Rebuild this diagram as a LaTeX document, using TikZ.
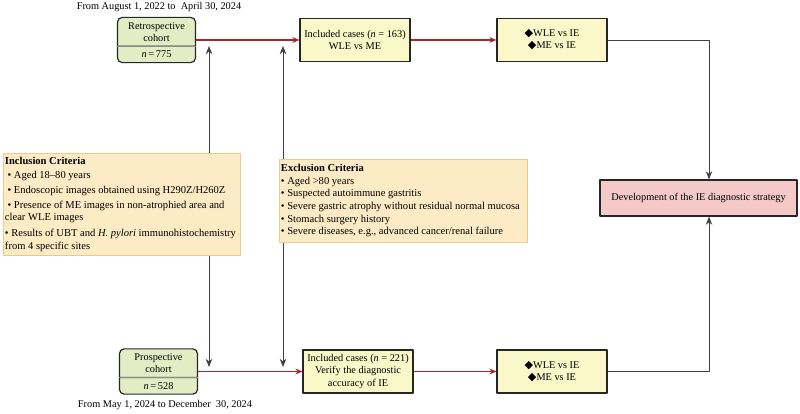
\documentclass[tikz,border=0pt]{standalone}
\usepackage{fontspec}
\setmainfont{Liberation Serif}
\newfontfamily\symfont{DejaVu Sans}
\usetikzlibrary{arrows.meta,shapes.multipart}

\definecolor{cohortfill}{HTML}{E3ECC4}
\definecolor{casefill}{HTML}{FAF7C8}
\definecolor{devfill}{HTML}{F6C9C9}
\definecolor{critfill}{HTML}{FCEBC4}
\definecolor{critedge}{HTML}{EBCB8B}
\definecolor{flowred}{HTML}{A3282A}

\newcommand{\dmd}{{\symfont\fontsize{9.5}{10}\selectfont ◆}}

\begin{document}
\begin{tikzpicture}[x=0.03cm, y=-0.03cm, line join=round,
    font=\fontsize{8.8}{10.4}\selectfont,
    cohort/.style={rectangle split, rectangle split parts=2, draw=black!85,
      line width=1pt, rounded corners=4pt, fill=cohortfill, text width=2.2cm,
      align=center, inner xsep=2pt, inner ysep=3.6pt},
    casebox/.style={draw=black!85, line width=1pt, fill=casefill,
      minimum width=3.3cm, minimum height=1.29cm, align=center, inner sep=1pt},
    critbox/.style={draw=critedge, fill=critfill, align=flush left, anchor=north west,
      inner xsep=1.5pt, inner ysep=3pt, font=\fontsize{9}{10.5}\selectfont},
    flow/.style={-{Stealth[length=6pt,width=5pt]}, line width=0.9pt, flowred},
    link/.style={-{Stealth[length=7pt,width=5.5pt]}, semithick, black!75}]

\useasboundingbox (0,0) rectangle (800,414);

% cohorts
\node[cohort] (retro) at (156.5,40) {Retrospective\\cohort\nodepart{two}\textit{n}\,=\,775};
\node[cohort] (prosp) at (158.5,371.5) {Prospective\\cohort\nodepart{two}\textit{n}\,=\,528};
\draw[black!45] (retro.text split west) -- (retro.text split east);
\draw[black!45] (prosp.text split west) -- (prosp.text split east);

\node (retrodate) at (159,7) {From August 1, 2022 to\ \ April 30, 2024};
\node (prospdate) at (165,405) {From May 1, 2024 to December\ \ 30, 2024};

% included cases
\node[casebox] (incA) at (355,40) {Included cases (\textit{n} = 163)\\WLE vs ME};
\node[casebox] (incB) at (358,371.5) {Included cases (\textit{n} = 221)\\Verify the diagnostic\\accuracy of IE};

% comparisons
\node[casebox] (cmpA) at (552,40) {\dmd WLE vs IE\\\dmd ME vs IE};
\node[casebox] (cmpB) at (552,371.5) {\dmd WLE vs IE\\\dmd ME vs IE};

\node[draw=black!85, line width=1pt, fill=devfill, minimum width=5.91cm,
  minimum height=1.08cm] (dev) at (698.5,198) {Development of the IE diagnostic strategy};
\coordinate (join) at (709,198);

\draw[flow] (retro.east) -- (incA.west);
\draw[flow] (incA.east) -- (cmpA.west);
\draw[flow] (prosp.east |- incB.west) -- (incB.west);
\draw[flow] (incB.east) -- (cmpB.west);

\draw[link] (cmpA.east) -| (join |- dev.north);
\draw[link] (cmpB.east) -| (join |- dev.south);

% criteria arrows, boxes lie on top
\coordinate (inctop) at (209,46);
\coordinate (incbot) at (209,367);
\coordinate (exctop) at (283,46);
\coordinate (excbot) at (283,367);
\draw[link, {Stealth[length=7pt,width=5.5pt]}-{Stealth[length=7pt,width=5.5pt]}] (inctop) -- (incbot);
\draw[link, {Stealth[length=7pt,width=5.5pt]}-{Stealth[length=7pt,width=5.5pt]}] (exctop) -- (excbot);

\node[critbox, text width=7.0cm, minimum height=3.0cm] (incl) at (3,153)
  {\textbf{Inclusion Criteria}\\[1.5pt]
   \ • Aged 18–80 years\\[2.5pt]
   \ • Endoscopic images obtained using H290Z/H260Z\\[2.5pt]
   \ • Presence of ME images in non-atrophied area and\\
   clear WLE images\\[3pt]
   • Results of UBT and \textit{H. pylori} immunohistochemistry\\
   from 4 specific sites};
\node[critbox, text width=7.33cm, minimum height=2.49cm] (excl) at (279,159)
  {\textbf{Exclusion Criteria}\\
   • Aged >80 years\\
   • Suspected autoimmune gastritis\\[1pt]
   • Severe gastric atrophy without residual normal mucosa\\
   • Stomach surgery history\\
   • Severe diseases, e.g., advanced cancer/renal failure};

\end{tikzpicture}
\end{document}
